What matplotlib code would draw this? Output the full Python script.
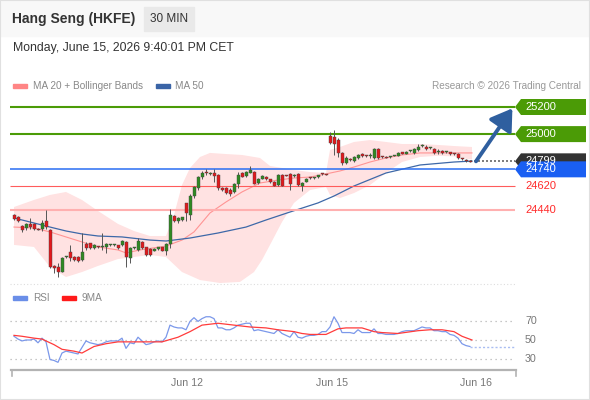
import numpy as np
import matplotlib.pyplot as plt
from matplotlib.patches import Rectangle, Polygon
from matplotlib.lines import Line2D

plt.rcParams['font.family'] = ['Liberation Sans', 'DejaVu Sans']

W, H = 590, 400

# 30 min candles
opens = [24403, 24385, 24320, 24310, 24335, 24335, 24300, 24300, 24355, 24290,
         24025, 24020, 23985, 24090, 24130, 24095, 24095, 24070, 24190, 24195,
         24160, 24170, 24165, 24165, 24180, 24180, 24180, 24180, 24205, 24085,
         24160, 24145, 24205, 24165, 24155, 24140, 24150, 24165, 24140, 24190,
         24395, 24355, 24365, 24490, 24400, 24545, 24600, 24680, 24712, 24705,
         24715, 24700, 24605, 24600, 24590, 24570, 24630, 24715, 24690, 24715,
         24720, 24640, 24670, 24685, 24665, 24650, 24625, 24700, 24695, 24705,
         24690, 24705, 24620, 24650, 24675, 24675, 24680, 24705, 24700, 24985,
         24975, 24960, 24860, 24790, 24812, 24800, 24820, 24855, 24840, 24840,
         24820, 24890, 24830, 24828, 24832, 24840, 24840, 24865, 24855, 24875,
         24860, 24880, 24910, 24905, 24895, 24890, 24870, 24875, 24865, 24865,
         24852, 24855, 24815, 24810, 24799]
closes = [24375, 24360, 24290, 24335, 24315, 24300, 24295, 24345, 24315, 24020,
          24015, 23980, 24085, 24095, 24085, 24070, 24065, 24130, 24160, 24160,
          24180, 24165, 24170, 24190, 24182, 24182, 24160, 24210, 24095, 24160,
          24162, 24210, 24160, 24105, 24105, 24155, 24165, 24140, 24190, 24400,
          24360, 24380, 24385, 24420, 24545, 24610, 24680, 24715, 24710, 24715,
          24690, 24600, 24590, 24565, 24555, 24630, 24700, 24685, 24720, 24735,
          24635, 24670, 24690, 24665, 24645, 24620, 24700, 24620, 24693, 24630,
          24700, 24625, 24640, 24670, 24673, 24680, 24695, 24703, 24698, 24935,
          24930, 24860, 24790, 24825, 24810, 24830, 24845, 24840, 24838, 24842,
          24890, 24820, 24828, 24826, 24834, 24842, 24860, 24855, 24870, 24877,
          24890, 24905, 24912, 24890, 24897, 24860, 24872, 24860, 24867, 24850,
          24850, 24820, 24813, 24800, 24797]
highs = [24410, 24395, 24330, 24345, 24380, 24345, 24305, 24365, 24440, 24300,
         24035, 24050, 24090, 24100, 24180, 24100, 24100, 24270, 24205, 24200,
         24190, 24175, 24270, 24200, 24190, 24190, 24185, 24215, 24210, 24165,
         24170, 24230, 24210, 24170, 24160, 24160, 24170, 24170, 24195, 24450,
         24400, 24385, 24390, 24495, 24555, 24620, 24690, 24725, 24740, 24720,
         24740, 24705, 24610, 24610, 24600, 24640, 24720, 24720, 24725, 24765,
         24725, 24675, 24695, 24690, 24670, 24655, 24705, 24705, 24700, 24710,
         24705, 24710, 24645, 24675, 24680, 24685, 24700, 24710, 24705, 25015,
         25030, 24970, 24870, 24835, 24820, 24840, 24855, 24860, 24845, 24860,
         24895, 24895, 24835, 24835, 24840, 24848, 24865, 24870, 24875, 24882,
         24900, 24925, 24925, 24920, 24905, 24895, 24890, 24880, 24872, 24870,
         24858, 24860, 24820, 24815, 24803]
lows = [24365, 24350, 24280, 24290, 24300, 24290, 24290, 24285, 24300, 24010,
        23975, 23945, 23980, 24085, 24060, 24060, 24055, 24060, 24145, 24150,
        24150, 24160, 24145, 24120, 24175, 24175, 24155, 24175, 24020, 24050,
        24155, 24140, 24150, 24100, 24100, 24135, 24145, 24135, 24110, 24160,
        24350, 24345, 24360, 24360, 24365, 24530, 24590, 24670, 24700, 24700,
        24650, 24590, 24580, 24555, 24545, 24565, 24600, 24680, 24685, 24710,
        24630, 24635, 24665, 24660, 24640, 24615, 24620, 24615, 24690, 24585,
        24685, 24620, 24580, 24645, 24670, 24670, 24675, 24700, 24695, 24925,
        24845, 24830, 24775, 24780, 24800, 24795, 24815, 24830, 24832, 24820,
        24815, 24815, 24822, 24820, 24825, 24835, 24835, 24850, 24850, 24868,
        24855, 24875, 24905, 24880, 24888, 24850, 24855, 24855, 24858, 24845,
        24845, 24815, 24808, 24795, 24794]

# Bollinger bands, MA 20 and MA 50 (candle index, price)
bb_up_x = [0, 5, 9, 13, 17, 21, 26, 30, 34, 38, 40, 42, 44, 46.5, 49, 53, 57, 61.5,
           64, 70, 74, 78, 79, 81.5, 85, 89, 93, 97, 101.5, 106, 110, 114.5]
bb_up = [24462, 24514, 24551, 24573, 24514, 24433, 24337, 24285, 24248, 24248, 24403,
         24624, 24750, 24831, 24861, 24853, 24846, 24824, 24765, 24735, 24720, 24713,
         24883, 24905, 24942, 24956, 24942, 24927, 24927, 24920, 24912, 24905]
bb_lo_x = [0, 5, 9, 13, 17, 21, 26, 30, 34, 38, 42, 46.5, 51.5, 56.5, 60, 62, 64, 67,
           70, 74, 78, 79, 81.5, 85, 89, 93, 97, 101.5, 106, 110, 114.5]
bb_lo = [24182, 24167, 24019, 23945, 23982, 24027, 24078, 24093, 24108, 24093, 23982,
         23923, 23901, 23909, 23982, 24071, 24182, 24351, 24492, 24587, 24610, 24551,
         24528, 24565, 24624, 24713, 24794, 24831, 24840, 24835, 24812]
ma20_x = [0, 5, 9, 13, 17, 21, 26, 28, 31.5, 38, 42, 45, 49, 53, 57, 61.5, 66, 70, 74,
          78, 81.5, 85, 89, 93, 97, 101.5, 106, 110, 114.5]
ma20 = [24314, 24307, 24278, 24241, 24204, 24167, 24145, 24123, 24145, 24174, 24218,
        24278, 24418, 24499, 24573, 24639, 24661, 24676, 24683, 24706, 24728, 24757,
        24794, 24824, 24846, 24861, 24861, 24861, 24861]
ma50_x = [0, 5, 9, 13, 17, 21, 27, 34, 38, 44, 51, 58, 63, 69, 76, 80, 85, 93, 101.5,
          110, 114.5]
ma50 = [24381, 24344, 24314, 24285, 24263, 24248, 24241, 24218, 24211, 24233, 24270,
        24314, 24366, 24425, 24492, 24543, 24617, 24713, 24772, 24794, 24801]

# RSI per candle and its 9 period MA
rsi = [54, 51, 49, 50, 50, 51, 47, 52, 48, 29, 28, 26, 36, 38, 37, 36, 35, 42, 49, 47,
       46, 45, 46, 48, 49, 49, 49, 52, 41, 47, 46, 53, 49, 45, 46, 48, 49, 48, 53, 66,
       64, 63, 63, 61, 70, 74, 70, 73, 75, 75, 73, 63, 63, 61, 61, 63, 66, 67, 68, 68,
       60, 61, 60, 59, 58, 57, 61, 57, 55, 53, 59, 53, 52, 54, 55, 55, 56, 59, 59, 64,
       75, 68, 58, 58, 58, 57, 61, 58, 58, 58, 62, 57, 57, 56, 56, 56, 57, 59, 60, 60,
       60, 62, 64, 63, 63, 60, 60, 59, 59, 56, 55, 52, 46, 44, 43]
rsi_ma_x = [0, 2, 5, 7, 10, 12, 15, 17, 20, 23, 26, 30, 33, 37, 41, 44, 47, 51, 55, 59,
            63, 66, 70, 72, 74, 76, 78, 81, 83, 87, 90, 92, 96, 101, 104, 107, 110, 112, 114.5]
rsi_ma = [55, 54, 52, 51, 45, 40, 38, 36, 43, 46, 48, 48, 48, 48, 53, 59, 66, 68, 66, 64,
          63, 61, 59, 57, 56, 56, 56, 62, 63, 63, 59, 58, 57, 60, 61, 61, 59, 54, 50]
rsi_levels = [70, 50, 30]

levels = [25200, 25000, 24740, 24620, 24440]
level_colors = ['#4b9b06', '#4b9b06', '#2a6ef2', '#ff5c5c', '#ffb0b0']
level_lw = [1.5, 1.5, 1.1, 0.8, 1.5]
last_price = 24799
target = 25200

day_ticks = [43.25, 79.5, 115.5]
day_labels = ['Jun 12', 'Jun 15', 'Jun 16']


def fx(x):
    return x / W


def fy(y):
    return 1 - y / H


fig = plt.figure(figsize=(5.9, 4), dpi=100)
fig.patch.set_facecolor('white')

# header
fig.add_artist(Rectangle((0, fy(36)), 1, 36 / H, transform=fig.transFigure,
                         color='#f8f8f8', zorder=0))
fig.add_artist(Rectangle((fx(144), fy(31)), 50 / W, 24 / H, transform=fig.transFigure,
                         color='#e9e9e9', zorder=1))
fig.text(fx(12), fy(19), 'Hang Seng (HKFE)', fontsize=10, fontweight='bold',
         color='#333333', va='center')
fig.text(fx(169), fy(19), '30 MIN', fontsize=8.5, color='#333333', va='center', ha='center')
fig.text(fx(13), fy(48), 'Monday, June 15, 2026 9:40:01 PM CET', fontsize=8.8,
         color='#333333', va='center')

# legends
fs_leg = 7.2
fig.add_artist(Rectangle((fx(13), fy(88)), 14 / W, 4 / H, transform=fig.transFigure,
                         color='#ff8585'))
fig.text(fx(33), fy(86), 'MA 20 + Bollinger Bands', fontsize=fs_leg, color='#888888', va='center')
fig.add_artist(Rectangle((fx(156), fy(88)), 14 / W, 4 / H, transform=fig.transFigure,
                         color='#3a64a6'))
fig.text(fx(175), fy(86), 'MA 50', fontsize=fs_leg, color='#888888', va='center')
fig.text(fx(581), fy(86), 'Research \u00a9 2026 Trading Central', fontsize=fs_leg,
         color='#999999', va='center', ha='right')

fig.add_artist(Rectangle((fx(13), fy(300)), 14 / W, 4 / H, transform=fig.transFigure,
                         color='#6a8ee8'))
fig.text(fx(33), fy(298), 'RSI', fontsize=fs_leg, color='#888888', va='center')
fig.add_artist(Rectangle((fx(62), fy(300)), 14 / W, 4 / H, transform=fig.transFigure,
                         color='#ff1a1a'))
fig.text(fx(82), fy(298), '9MA', fontsize=fs_leg, color='#888888', va='center')

# main price panel
ppx = 7.38  # price per pixel
ax = fig.add_axes([0, fy(284), 1, (284 - 95) / H])
ax.set_xlim(-3.5, 144)
ax.set_ylim(25200 - 177 * ppx, 25200 + 12 * ppx)
ax.axis('off')

band = list(zip(bb_up_x, bb_up)) + list(zip(bb_lo_x, bb_lo))[::-1]
ax.add_patch(Polygon(band, closed=True, color='#ffe2e2', lw=0, zorder=1))
ax.plot(ma20_x, ma20, color='#ff9494', lw=0.8, zorder=2)
ax.plot(ma50_x, ma50, color='#3d68a8', lw=0.9, zorder=2)

for lv, c, lw in zip(levels, level_colors, level_lw):
    ax.plot([-1, 125.25], [lv, lv], color=c, lw=lw, zorder=2, solid_capstyle='butt')

x = np.arange(len(opens))
o = np.array(opens)
c = np.array(closes)
cols = np.where(c >= o, '#2f8a22', '#e3191c')
body = np.maximum(np.abs(c - o), 7)
ax.vlines(x, lows, highs, color='#555555', lw=0.7, zorder=3)
ax.bar(x, body, bottom=np.minimum(o, c), width=0.75, color=cols, edgecolor='#444444',
       lw=0.3, zorder=4)

ax.plot([x[-1], 125.25], [last_price, last_price], color='#666666', lw=1.2,
        ls=(0, (1.2, 1.2)), zorder=3)
ax.annotate('', xy=(124.6, target - 10), xytext=(115.5, last_price),
            arrowprops=dict(arrowstyle='-|>,head_width=0.45,head_length=0.7',
                            color='#2f5f9f', lw=2.8, mutation_scale=18,
                            shrinkA=0, shrinkB=0), zorder=6)


def tag(y, text, fc):
    h = 8 * ppx
    pts = [(125.25, y), (126.75, y + h), (143, y + h), (143, y - h), (126.75, y - h)]
    ax.add_patch(Polygon(pts, closed=True, color=fc, lw=0, zorder=7))
    ax.text(127.75, y, text, color='white', fontsize=8, va='center', zorder=8)


tag(levels[0], str(levels[0]), '#4b9b06')
tag(levels[1], str(levels[1]), '#4b9b06')
tag(last_price, str(last_price), '#333333')
tag(levels[2], str(levels[2]), '#1a5ff2')
for lv in levels[3:]:
    ax.text(127.75, lv, str(lv), color='#ff2a2a', fontsize=8, va='center')

# faint separator under price panel
fig.add_artist(Line2D([fx(10), fx(515)], [fy(284), fy(284)], transform=fig.transFigure,
                      color='#dddddd', lw=0.8, ls=(0, (1, 2))))

# RSI panel
ax2 = fig.add_axes([0, fy(372), 1, 82 / H])
ax2.set_xlim(-3.5, 144)
ax2.set_ylim(50 - 32 / 0.93, 50 + 50 / 0.93)
ax2.axis('off')
for lv in rsi_levels:
    ax2.plot([-1, 125.25], [lv, lv], color='#b5b5b5', lw=0.9, ls=(0, (1, 3)))
    ax2.text(127.75, lv, str(lv), color='#777777', fontsize=7.7, va='center')
ax2.plot(x, rsi, color='#7b98ea', lw=0.9)
ax2.plot([x[-1], 125], [rsi[-1], rsi[-1]], color='#a9bdf2', lw=1.0, ls=(0, (1.5, 1.5)))
ax2.plot(rsi_ma_x, rsi_ma, color='#ff3b3b', lw=0.9)

# time axis
fig.add_artist(Line2D([fx(11), fx(516)], [fy(370), fy(370)], transform=fig.transFigure,
                      color='#b3b3b3', lw=1.6))
for px_ in (11.5, 515.5):
    fig.add_artist(Line2D([fx(px_), fx(px_)], [fy(370), fy(376)],
                          transform=fig.transFigure, color='#b3b3b3', lw=1.2))
for t, lab in zip(day_ticks, day_labels):
    ax2.text(t, (372 - 383) / 82, lab, transform=ax2.get_xaxis_transform(),
             fontsize=7.7, color='#777777', ha='center', va='center')

# card border
fig.add_artist(Rectangle((0, 0), 1, 1, transform=fig.transFigure, fill=False,
                         ec='#e0e0e0', lw=1.5))

fig.savefig('out.png', dpi=100)
